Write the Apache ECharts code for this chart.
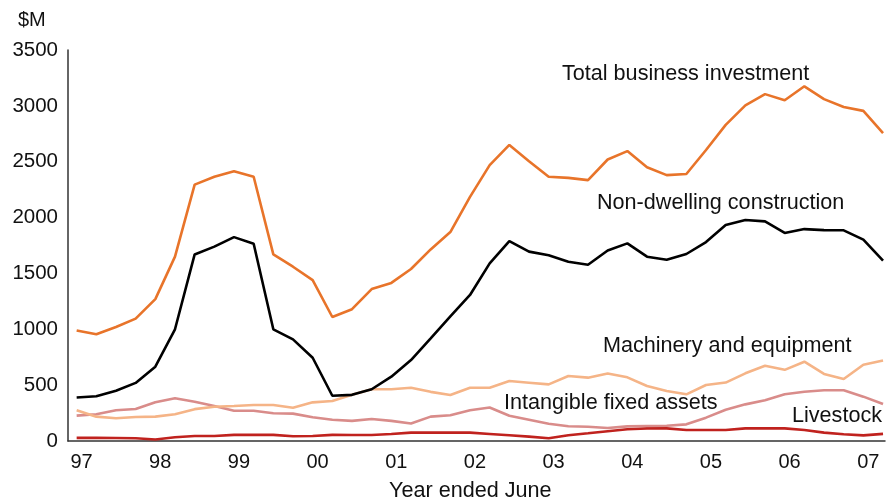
<!DOCTYPE html>
<html>
<head>
<meta charset="utf-8">
<title>Business investment</title>
<script src="https://cdn.jsdelivr.net/npm/echarts@6/dist/echarts.min.js"></script>
<style>
  html, body { margin: 0; padding: 0; background: #fff; }
  #chart { width: 888px; height: 502px; }
</style>
</head>
<body>
<div id="chart"></div>
<script>
// Quarterly values, $M (42 quarters)
var totalInvestment = [990, 955, 1020, 1095, 1270, 1650, 2295, 2365, 2415, 2365, 1670, 1560, 1440, 1110, 1180, 1360, 1415, 1540, 1715, 1870, 2185, 2470, 2650, 2505, 2365, 2355, 2335, 2520, 2595, 2450, 2380, 2390, 2605, 2830, 3005, 3105, 3050, 3175, 3060, 2990, 2955, 2755];
var nonDwelling = [390, 400, 450, 520, 665, 1000, 1670, 1740, 1825, 1765, 1000, 910, 745, 405, 413, 463, 576, 725, 919, 1115, 1307, 1590, 1790, 1695, 1662, 1605, 1578, 1705, 1769, 1650, 1623, 1674, 1781, 1933, 1978, 1966, 1862, 1897, 1888, 1886, 1802, 1614];
var machinery = [276, 218, 203, 215, 218, 240, 285, 307, 313, 322, 322, 298, 346, 358, 415, 463, 463, 477, 440, 412, 477, 477, 537, 522, 507, 582, 567, 605, 570, 492, 448, 418, 501, 523, 606, 674, 637, 710, 600, 555, 683, 720];
var intangible = [227, 239, 275, 286, 346, 382, 352, 313, 271, 271, 248, 245, 212, 190, 180, 197, 180, 156, 218, 230, 276, 300, 226, 191, 155, 132, 128, 116, 131, 134, 137, 149, 209, 280, 328, 364, 418, 441, 454, 454, 397, 331];
var livestock = [28, 28, 27, 25, 13, 33, 45, 45, 55, 55, 55, 42, 45, 55, 54, 54, 63, 75, 75, 75, 75, 63, 51, 39, 24, 51, 69, 88, 105, 113, 113, 98, 98, 98, 113, 113, 113, 98, 75, 60, 50, 64];
var yearLabels = ['97', '98', '99', '00', '01', '02', '03', '04', '05', '06', '07'];

var FONT = '"Liberation Sans", Arial, sans-serif';
var labelShift = 0.25; // year labels sit a little right of the quarter point

function toPoints(arr) {
    return arr.map(function (v, i) { return [i, v]; });
}

function lineSeries(name, values, color) {
    return {
        name: name,
        type: 'line',
        data: toPoints(values),
        showSymbol: false,
        symbol: 'none',
        lineStyle: { color: color, width: 2.6 },
        itemStyle: { color: color },
        animation: false
    };
}

var chart = echarts.init(document.getElementById('chart'));
chart.setOption({
    backgroundColor: '#fff',
    grid: { left: 68, right: 3, top: 50, bottom: 61, containLabel: false, outerBoundsMode: 'none' },
    xAxis: {
        type: 'value',
        min: -0.44,
        max: 41.1,
        splitLine: { show: false },
        axisTick: { show: false },
        axisLine: { onZero: false, lineStyle: { color: '#333', width: 1.5 } },
        axisLabel: {
            customValues: yearLabels.map(function (y, k) { return k * 4 + labelShift; }),
            formatter: function (v) { return yearLabels[Math.round((v - labelShift) / 4)]; },
            color: '#111',
            fontFamily: FONT,
            fontSize: 20,
            margin: 11
        }
    },
    yAxis: {
        type: 'value',
        min: 0,
        max: 3500,
        interval: 500,
        splitLine: { show: false },
        axisTick: { show: false },
        axisLine: { show: true, onZero: false, lineStyle: { color: '#333', width: 1.5 } },
        axisLabel: {
            formatter: function (v) { return String(v); },
            color: '#111', fontFamily: FONT, fontSize: 20.5, margin: 10
        }
    },
    graphic: [
        { type: 'text', left: 18, top: 10, style: { text: '$M', font: '20px ' + FONT, fill: '#111' } },
        { type: 'text', left: 562, top: 63, style: { text: 'Total business investment', font: '21.6px ' + FONT, fill: '#111' } },
        { type: 'text', left: 597, top: 192, style: { text: 'Non-dwelling construction', font: '21.6px ' + FONT, fill: '#111' } },
        { type: 'text', left: 603, top: 335, style: { text: 'Machinery and equipment', font: '21.6px ' + FONT, fill: '#111' } },
        { type: 'text', left: 504, top: 392, style: { text: 'Intangible fixed assets', font: '21.6px ' + FONT, fill: '#111' } },
        { type: 'text', left: 792, top: 405, style: { text: 'Livestock', font: '21.6px ' + FONT, fill: '#111' } },
        { type: 'text', left: 389, top: 480, style: { text: 'Year ended June', font: '21.6px ' + FONT, fill: '#111' } }
    ],
    series: [
        lineSeries('Livestock', livestock, '#c0221e'),
        lineSeries('Intangible fixed assets', intangible, '#d98c8a'),
        lineSeries('Machinery and equipment', machinery, '#f5b487'),
        lineSeries('Non-dwelling construction', nonDwelling, '#000000'),
        lineSeries('Total business investment', totalInvestment, '#e8742a')
    ]
});
</script>
</body>
</html>
